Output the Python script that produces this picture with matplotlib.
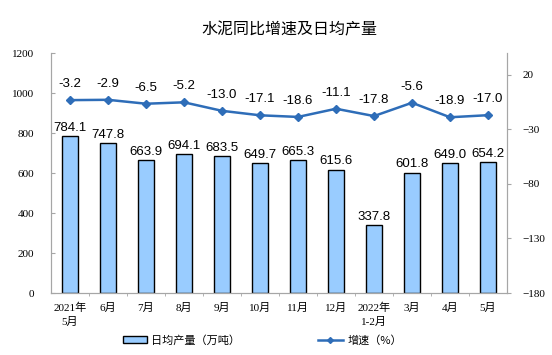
import matplotlib
matplotlib.use('Agg')
import matplotlib.pyplot as plt
from matplotlib.patches import Patch
from matplotlib.lines import Line2D

plt.rcParams['font.family'] = ['Liberation Serif', 'Noto Sans CJK SC']

# 数据
meses = ['2021年\n5月', '6月', '7月', '8月', '9月', '10月', '11月', '12月',
         '2022年\n1-2月', '3月', '4月', '5月']
producao = [784.1, 747.8, 663.9, 694.1, 683.5, 649.7, 665.3, 615.6,
            337.8, 601.8, 649.0, 654.2]
crescimento = [-3.2, -2.9, -6.5, -5.2, -13.0, -17.1, -18.6, -11.1,
               -17.8, -5.6, -18.9, -17.0]

cor_barra = '#99CCFF'
cor_linha = '#2E6DB8'
cinza = '#A6A6A6'

fig = plt.figure(figsize=(5.52, 3.55), dpi=100)
ax = fig.add_axes([0.0924, 0.1746, 0.8261, 0.6761])
ax2 = ax.twinx()

x = list(range(len(meses)))
ax.bar(x, producao, width=0.42, color=cor_barra, edgecolor='black', linewidth=1.0, zorder=2)
for xi, v in zip(x, producao):
    ax.text(xi, v + 12, f'{v:.1f}', ha='center', va='bottom', fontsize=9.5,
            family=['Liberation Sans', 'DejaVu Sans'])

ax2.plot(x, crescimento, color=cor_linha, linewidth=1.8, marker='D', markersize=4, zorder=3)
for xi, v in zip(x, crescimento):
    ax2.text(xi, v + 9, f'{v:.1f}', ha='center', va='bottom', fontsize=9.5,
             family=['Liberation Sans', 'DejaVu Sans'])

ax.set_xlim(-0.5, len(meses) - 0.5)
ax.set_ylim(0, 1200)
ax.set_yticks(range(0, 1201, 200))
ax2.set_ylim(-180, 40)
ax2.set_yticks(range(-180, 21, 50))

ax.set_xticks(x)
ax.set_xticklabels(meses, fontsize=8, linespacing=1.5)
ax.set_xticks([i + 0.5 for i in x[:-1]], minor=True)
ax.tick_params(axis='x', which='major', length=0, pad=7)
ax.tick_params(axis='x', which='minor', length=2, color=cinza)
ax.tick_params(axis='y', labelsize=8, length=3, direction='in', color=cinza, pad=12)
ax2.tick_params(axis='y', labelsize=8, length=3, direction='out', color=cinza, pad=8)

for a in (ax, ax2):
    a.spines['top'].set_visible(False)
    a.spines['left'].set_color(cinza)
    a.spines['right'].set_color(cinza)
    a.spines['bottom'].set_color(cinza)

fig.text(0.525, 0.915, '水泥同比增速及日均产量', ha='center', va='center', fontsize=11.5,
         family=['Noto Sans CJK SC'])

handles = [Patch(facecolor=cor_barra, edgecolor='black', linewidth=1.0),
           Line2D([0], [0], color=cor_linha, linewidth=1.8, marker='D', markersize=3)]
fig.legend(handles, ['日均产量（万吨）', '增速（%）'], loc='center', bbox_to_anchor=(0.475, 0.042),
           ncol=2, frameon=False, columnspacing=7, handlelength=2.2, handletextpad=0.4,
           prop={'family': ['Noto Sans CJK SC'], 'size': 8})

fig.savefig('out.png', dpi=100)
